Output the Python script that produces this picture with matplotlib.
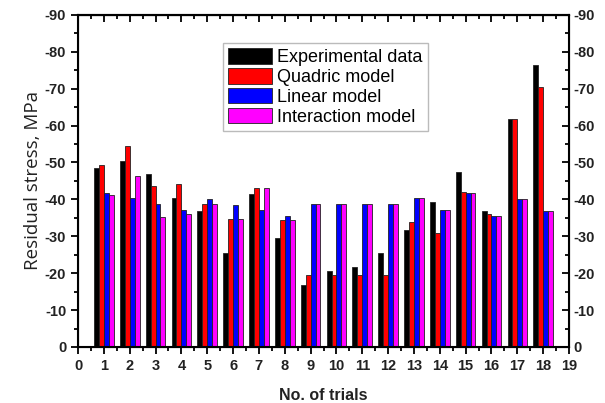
import matplotlib
matplotlib.use('Agg')

import numpy as np
import matplotlib.pyplot as plt
from matplotlib.ticker import MultipleLocator

trials = np.arange(1, 19)
experimental = [48.6, 50.3, 46.8, 40.5, 36.9, 25.5, 41.5, 29.6, 16.8, 20.5, 21.7, 25.6, 31.6, 39.3, 47.4, 36.8, 61.8, 76.4]
quadric = [49.4, 54.6, 43.6, 44.3, 38.7, 34.6, 43.0, 34.5, 19.5, 19.5, 19.5, 19.5, 33.8, 30.8, 42.0, 36.0, 61.8, 70.4]
linear = [41.8, 40.3, 38.8, 37.2, 40.0, 38.6, 37.1, 35.6, 38.7, 38.7, 38.7, 38.7, 40.3, 37.1, 41.7, 35.6, 40.0, 36.9]
interaction = [41.1, 46.3, 35.2, 36.0, 38.8, 34.8, 43.2, 34.5, 38.7, 38.7, 38.7, 38.7, 40.3, 37.1, 41.7, 35.6, 40.0, 36.9]

series = [experimental, quadric, linear, interaction]
labels = ['Experimental data', 'Quadric model', 'Linear model', 'Interaction model']
colors = ['#000000', '#ff0000', '#0000ff', '#ff00ff']
yticks = [0, 10, 20, 30, 40, 50, 60, 70, 80, 90]
ytick_labels = ['0', '-10', '-20', '-30', '-40', '-50', '-60', '-70', '-80', '-90']

plt.rcParams['font.family'] = ['Liberation Sans', 'DejaVu Sans']
txt = '#222222'

fig = plt.figure(figsize=(6.05, 4.03), dpi=100)
ax = fig.add_axes([0.129, 0.139, 0.8115, 0.824])

w = 0.19
for i, (vals, lab, col) in enumerate(zip(series, labels, colors)):
    ax.bar(trials + (i - 1.5) * w, vals, width=w, color=col, edgecolor='#222222',
           linewidth=0.6, label=lab)

ax.set_xlim(0, 19)
ax.set_ylim(0, 90)
ax.set_xticks(range(0, 20))
ax.xaxis.set_minor_locator(MultipleLocator(0.5))
ax.set_yticks(yticks)
ax.set_yticklabels(ytick_labels)
ax.yaxis.set_minor_locator(MultipleLocator(5))

for s in ax.spines.values():
    s.set_linewidth(1.5)

ax.tick_params(which='both', direction='out', width=1.3, labelsize=10.5, labelcolor=txt)
ax.tick_params(which='major', length=5)
ax.tick_params(which='minor', length=3)
for t in ax.get_xticklabels() + ax.get_yticklabels():
    t.set_fontweight('bold')

# top axis: ticks pointing inward, no labels
top = ax.secondary_xaxis('top')
top.set_xticks(range(0, 20))
top.xaxis.set_minor_locator(MultipleLocator(0.5))
top.tick_params(which='both', direction='in', width=1.3, labeltop=False)
top.tick_params(which='major', length=5)
top.tick_params(which='minor', length=3)
top.spines['top'].set_linewidth(1.5)

# right axis: ticks inward, labels repeated
ax2 = ax.twinx()
ax2.set_ylim(0, 90)
ax2.set_yticks(yticks)
ax2.set_yticklabels(ytick_labels)
ax2.yaxis.set_minor_locator(MultipleLocator(5))
ax2.tick_params(axis='y', which='both', direction='in', width=1.3, labelsize=10.5, labelcolor=txt)
ax2.tick_params(which='major', length=5)
ax2.tick_params(which='minor', length=3)
for t in ax2.get_yticklabels():
    t.set_fontweight('bold')

ax.set_ylabel('Residual stress, MPa', fontsize=13.5, family=['Open Sans', 'DejaVu Sans'],
              labelpad=2, color=txt)
ax.set_xlabel('No. of trials', fontsize=11.5, fontweight='bold', labelpad=11, color=txt)

ax.legend(loc='upper left', bbox_to_anchor=(0.295, 0.916), fontsize=13, frameon=True,
          fancybox=False, edgecolor='#aaaaaa', handlelength=2.4, handleheight=0.95,
          handletextpad=0.3, labelspacing=0.1, borderpad=0.3, borderaxespad=0)

plt.savefig('out.png', dpi=100)
